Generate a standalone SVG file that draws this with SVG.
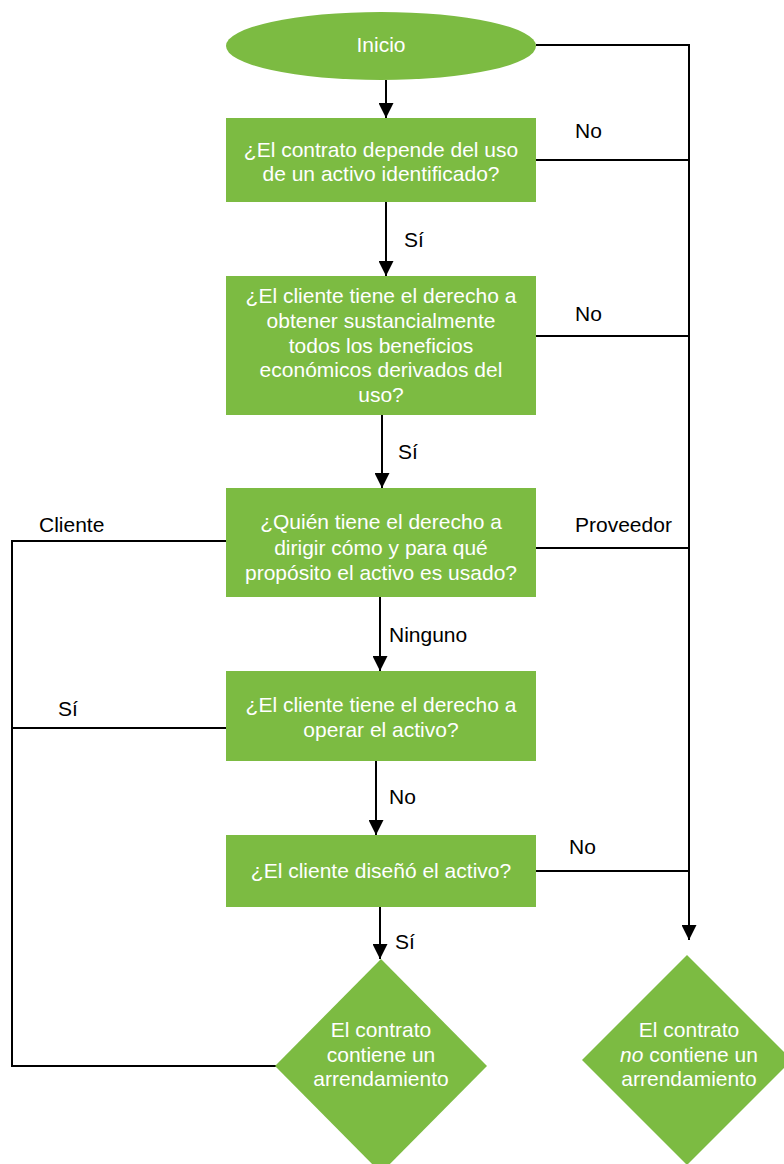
<svg xmlns="http://www.w3.org/2000/svg" width="784" height="1164" viewBox="0 0 784 1164">
<style>
.n{fill:#7cbb42;stroke:none}
.t{font-family:"Liberation Sans",Arial,sans-serif;font-size:21px;fill:#ffffff;text-anchor:middle}
.l{font-family:"Liberation Sans",Arial,sans-serif;font-size:21px;fill:#000000}
.c{fill:none;stroke:#000000;stroke-width:2}
</style>
<defs>
<marker id="ah" markerUnits="userSpaceOnUse" viewBox="0 0 15 15" refX="15" refY="7.5" markerWidth="15" markerHeight="15" orient="auto">
<path d="M0,0 L15,7.5 L0,15 z" fill="#000000"/>
</marker>
</defs>
<rect width="784" height="1164" fill="#ffffff"/>
<g id="connectors">
<path class="c" d="M536,45 H689 V940" marker-end="url(#ah)"/>
<path class="c" d="M536,160 H689"/>
<path class="c" d="M536,336 H689"/>
<path class="c" d="M536,548 H689"/>
<path class="c" d="M536,871 H689"/>
<path class="c" d="M226,541 H12 V1066 H276"/>
<path class="c" d="M226,728 H12"/>
<path class="c" d="M386,80 V118" marker-end="url(#ah)"/>
<path class="c" d="M386,202 V276" marker-end="url(#ah)"/>
<path class="c" d="M382,415 V488" marker-end="url(#ah)"/>
<path class="c" d="M380,597 V671" marker-end="url(#ah)"/>
<path class="c" d="M376,761 V835" marker-end="url(#ah)"/>
<path class="c" d="M380,907 V959" marker-end="url(#ah)"/>
<text class="l" x="575" y="138">No</text>
<text class="l" x="404" y="247">Sí</text>
<text class="l" x="575" y="321">No</text>
<text class="l" x="398" y="459">Sí</text>
<text class="l" x="39" y="532">Cliente</text>
<text class="l" x="575" y="532">Proveedor</text>
<text class="l" x="389" y="642">Ninguno</text>
<text class="l" x="58" y="716">Sí</text>
<text class="l" x="389" y="804">No</text>
<text class="l" x="569" y="854">No</text>
<text class="l" x="395" y="949">Sí</text>
</g>
<g id="inicio">
<ellipse class="n" cx="381" cy="46" rx="155" ry="34"/>
<text class="t" x="381" y="52">Inicio</text>
</g>
<g id="q1">
<rect class="n" x="226" y="118" width="310" height="84"/>
<text class="t" x="381" y="157">¿El contrato depende del uso</text>
<text class="t" x="381" y="181">de un activo identificado?</text>
</g>
<g id="q2">
<rect class="n" x="226" y="276" width="310" height="139"/>
<text class="t" x="381" y="303">¿El cliente tiene el derecho a</text>
<text class="t" x="381" y="328">obtener sustancialmente</text>
<text class="t" x="381" y="353">todos los beneficios</text>
<text class="t" x="381" y="377">económicos derivados del</text>
<text class="t" x="381" y="402">uso?</text>
</g>
<g id="q3">
<rect class="n" x="226" y="488" width="310" height="109"/>
<text class="t" x="381" y="529">¿Quién tiene el derecho a</text>
<text class="t" x="381" y="555">dirigir cómo y para qué</text>
<text class="t" x="381" y="580">propósito el activo es usado?</text>
</g>
<g id="q4">
<rect class="n" x="226" y="671" width="310" height="90"/>
<text class="t" x="381" y="712">¿El cliente tiene el derecho a</text>
<text class="t" x="381" y="737">operar el activo?</text>
</g>
<g id="q5">
<rect class="n" x="226" y="835" width="310" height="72"/>
<text class="t" x="381" y="878">¿El cliente diseñó el activo?</text>
</g>
<g id="si-arrendamiento">
<polygon class="n" points="381,959 487,1066 381,1173 275,1066"/>
<text class="t" x="381" y="1037">El contrato</text>
<text class="t" x="381" y="1062">contiene un</text>
<text class="t" x="381" y="1086">arrendamiento</text>
</g>
<g id="no-arrendamiento">
<polygon class="n" points="687,955 792,1060 687,1165 582,1060"/>
<text class="t" x="689" y="1037">El contrato</text>
<text class="t" x="689" y="1062"><tspan font-style="italic">no</tspan> contiene un</text>
<text class="t" x="689" y="1086">arrendamiento</text>
</g>
</svg>
